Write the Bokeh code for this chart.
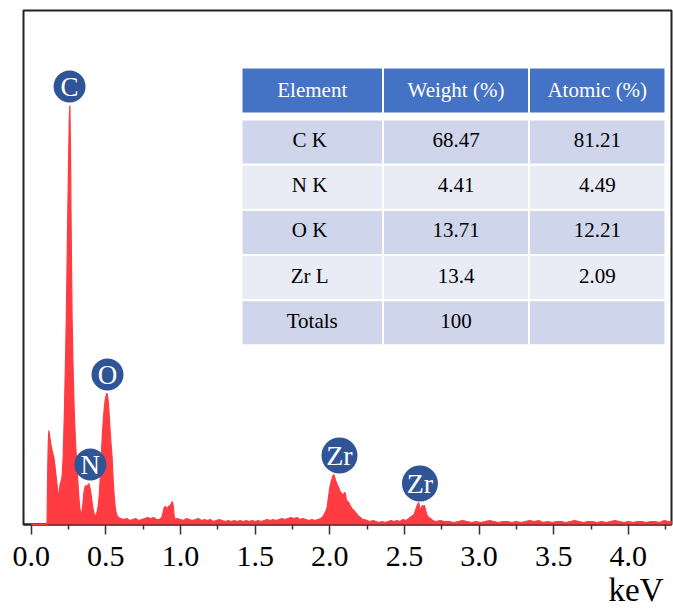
from bokeh.plotting import figure
from bokeh.models import Range1d, FixedTicker, Title, NumeralTickFormatter
from bokeh.core.properties import value
from bokeh.embed import file_html
from bokeh.resources import INLINE

SERIF = "Liberation Serif"
RED = "#FF3C41"
MARK_BLUE = "#2F5597"
HEAD_BLUE = "#4472C4"
ROW_DARK = "#CFD5EA"
ROW_LIGHT = "#E9EBF5"

# EDS spectrum: energy (keV) and intensity (a.u.)
kev = [
    0.000, 0.050, 0.100, 0.106,
    0.110, 0.114, 0.118, 0.122, 0.128, 0.134, 0.140, 0.146, 0.152, 0.158, 0.164, 0.170, 0.176, 0.181, 0.185, 0.189, 0.193, 0.198, 0.203, 0.208,
    0.214, 0.222, 0.230, 0.236, 0.243, 0.250, 0.255, 0.259, 0.263, 0.268, 0.274, 0.280, 0.288, 0.296, 0.303, 0.310, 0.318, 0.325, 0.332,
    0.340, 0.346, 0.352, 0.358, 0.364, 0.370, 0.376, 0.381, 0.386, 0.391, 0.397, 0.403, 0.409, 0.415, 0.421, 0.427, 0.432,
    0.438, 0.444, 0.450, 0.456, 0.462, 0.469, 0.476, 0.483, 0.490, 0.496, 0.502, 0.506, 0.509, 0.513, 0.518, 0.523, 0.528, 0.535, 0.542, 0.549, 0.556, 0.563, 0.570, 0.578, 0.586, 0.594,
    0.60, 0.62, 0.64, 0.66, 0.68, 0.70, 0.72, 0.74, 0.76, 0.78, 0.80, 0.82, 0.84, 0.86, 0.875,
    0.885, 0.890, 0.900, 0.910, 0.920, 0.930, 0.938, 0.946, 0.952, 0.958, 0.965,
    0.98, 1.00, 1.02, 1.04, 1.06, 1.08, 1.10, 1.12, 1.14, 1.16, 1.18, 1.20, 1.22, 1.24, 1.26, 1.28, 1.30, 1.32, 1.34, 1.36,
    1.38, 1.40, 1.42, 1.44, 1.46, 1.48, 1.50, 1.52, 1.54, 1.56, 1.58, 1.60, 1.62, 1.64, 1.66, 1.68, 1.70, 1.72, 1.74, 1.76,
    1.78, 1.80, 1.82, 1.84, 1.86, 1.88, 1.90, 1.92, 1.94, 1.955,
    1.965, 1.975, 1.982, 1.990, 2.000, 2.008, 2.016, 2.022, 2.027, 2.033, 2.039, 2.045, 2.052, 2.060, 2.068, 2.076, 2.084, 2.090,
    2.098, 2.105, 2.112, 2.120, 2.127, 2.136, 2.145, 2.153, 2.161, 2.172, 2.183, 2.195, 2.206, 2.218, 2.230, 2.250,
    2.27, 2.29, 2.31, 2.33, 2.35, 2.37, 2.39, 2.41, 2.43, 2.45, 2.47, 2.49, 2.51, 2.53, 2.545,
    2.557, 2.567, 2.576, 2.585, 2.591, 2.596, 2.601, 2.607, 2.613, 2.619, 2.625, 2.634, 2.642, 2.652, 2.663, 2.675, 2.690, 2.710,
    2.74, 2.77, 2.80, 2.83, 2.86, 2.89, 2.92, 2.95, 2.98, 3.01, 3.04, 3.07, 3.10, 3.13, 3.16, 3.19, 3.22, 3.25,
    3.28, 3.31, 3.34, 3.37, 3.40, 3.43, 3.46, 3.49, 3.52, 3.55, 3.58, 3.61, 3.64, 3.67, 3.70, 3.73, 3.76, 3.79,
    3.82, 3.85, 3.88, 3.91, 3.94, 3.97, 4.00, 4.03, 4.06, 4.09, 4.12, 4.15, 4.18, 4.21, 4.24, 4.27, 4.29,
]
counts = [
    0, 0, 0, 0,
    50, 80, 94, 90, 84, 78, 74, 70, 67, 60, 52, 44, 36, 30, 27, 33, 40, 42, 44, 50,
    67, 110, 165, 215, 290, 360, 405, 419, 380, 290, 205, 160, 115, 85, 67, 50, 30, 17, 11,
    13, 20, 31, 36, 39, 37, 39, 40, 41, 38, 34, 28, 21, 15, 11, 9, 9,
    11, 14, 20, 30, 45, 67, 88, 105, 117, 125, 129, 131, 131, 127, 120, 108, 95, 80, 67, 45, 28, 17, 11, 8, 7, 6,
    6, 5, 6, 4, 5, 6, 4, 5, 6, 7, 6, 7, 5, 5, 7,
    13, 17, 18, 16, 18, 19, 21, 23, 18, 8, 5,
    6, 5, 4, 6, 5, 4, 5, 6, 4, 5, 4, 5, 3, 4, 5, 4, 3, 4, 3, 4,
    3, 4, 3, 4, 3, 4, 3, 4, 3, 4, 5, 4, 5, 4, 5, 6, 5, 6, 7, 6,
    7, 5, 6, 5, 4, 5, 4, 5, 6, 8,
    11, 14, 17, 26, 37, 42, 46, 49, 50, 47, 44, 42, 39, 37, 33, 32, 30, 29,
    32, 31, 24, 23, 22, 19, 17, 15, 14, 12, 10, 8, 7, 5, 5, 4,
    3, 4, 3, 2, 3, 2, 3, 4, 3, 4, 3, 5, 4, 6, 8,
    9, 11, 15, 19, 21, 22, 18, 14, 16, 19, 18, 19, 14, 9, 7, 6, 4, 3,
    4, 3, 3, 2, 3, 4, 3, 2, 3, 2, 3, 4, 3, 2, 3, 3, 2, 3,
    2, 3, 4, 3, 4, 2, 3, 2, 3, 3, 2, 3, 4, 3, 2, 3, 3, 2,
    3, 2, 3, 4, 3, 2, 3, 2, 3, 3, 2, 3, 3, 2, 4, 3, 3,
]
assert len(kev) == len(counts)

# axis ticks (keV)
major_ticks = [0.0, 0.5, 1.0, 1.5, 2.0, 2.5, 3.0, 3.5, 4.0]
minor_ticks = [0.25, 0.75, 1.25, 1.75, 2.25, 2.75, 3.25, 3.75, 4.25]

# peak markers
peak_names = ["C", "N", "O", "Zr", "Zr"]
peak_kev = [0.257, 0.396, 0.511, 2.065, 2.604]

# quantification table
table_header = ["Element", "Weight (%)", "Atomic (%)"]
table_elements = ["C  K", "N  K", "O  K", "Zr  L", "Totals"]
weight_pct = ["68.47", "4.41", "13.71", "13.4", "100"]
atomic_pct = ["81.21", "4.49", "12.21", "2.09", ""]

p = figure(
    width=673, height=610,
    x_range=Range1d(-0.0516, 4.289), y_range=Range1d(0, 514),
    y_axis_type=None,
    output_backend="svg", toolbar_location=None,
    min_border_left=23, min_border_right=2, min_border_top=10, min_border_bottom=86,
)
p.xgrid.visible = False
p.background_fill_color = "white"
p.border_fill_color = "white"
p.outline_line_color = "#222222"
p.outline_line_width = 2

# pixel-space ranges for the inset table
p.extra_x_ranges = {"px": Range1d(23, 671)}
p.extra_y_ranges = {"px": Range1d(524, 10)}

# spectrum
area = p.varea(x=kev, y1=0, y2=counts, fill_color=RED)
edge = p.line(kev, counts, line_color=RED, line_width=1.2)
area.level = "annotation"
edge.level = "annotation"

# x axis
ax = p.xaxis[0]
ax.ticker = FixedTicker(ticks=major_ticks, minor_ticks=minor_ticks)
ax.formatter = NumeralTickFormatter(format="0.0")
ax.major_tick_out = 10
ax.major_tick_in = 0
ax.minor_tick_out = 5
ax.minor_tick_in = 0
ax.major_tick_line_color = "#333333"
ax.minor_tick_line_color = "#333333"
ax.major_tick_line_width = 1.5
ax.minor_tick_line_width = 1.5
ax.axis_line_color = "#222222"
ax.axis_line_width = 2
ax.major_label_text_font = SERIF
ax.major_label_text_font_size = "30px"
ax.major_label_text_color = "black"
ax.major_label_standoff = 12

# unit label at the lower right, below the axis
p.add_layout(Title(text="keV", align="right", offset=8, standoff=2,
                   text_font=SERIF, text_font_size="33px", text_font_style="normal",
                   text_color="black"), "below")

# peak markers above each peak maximum
label_y = []
for e in peak_kev:
    local = [c for k, c in zip(kev, counts) if abs(k - e) <= 0.045]
    label_y.append(max(local) + 19)
sizes = [36 if len(n) > 1 else 32 for n in peak_names]
fonts = ["28px" if len(n) > 1 else "27px" for n in peak_names]
dots = p.scatter(x=peak_kev, y=label_y, size=sizes, fill_color=MARK_BLUE, line_color=None)
dots.level = "overlay"
for e, yv, name, fs in zip(peak_kev, label_y, peak_names, fonts):
    t = p.text(x=[e], y=[yv], text=[name], text_color="white", text_font=value(SERIF),
               text_font_size=fs, text_align="center", text_baseline="middle")
    t.level = "overlay"

# inset table
col_left = [242, 383.5, 529.5]
col_right = [381.5, 527.5, 664]
col_mid = [(a + b) / 2 for a, b in zip(col_left, col_right)]
head_top, head_bot = 68, 112
row_top0, row_pitch, row_h = 120, 45.2, 43

p.quad(left=col_left, right=col_right, top=[head_top] * 3, bottom=[head_bot] * 3,
       fill_color=HEAD_BLUE, line_color=None, x_range_name="px", y_range_name="px")
p.text(x=col_mid, y=[(head_top + head_bot) / 2 - 1] * 3, text=table_header,
       text_color="white", text_font=value(SERIF), text_font_size="21px",
       text_align="center", text_baseline="middle", x_range_name="px", y_range_name="px")

rows = list(zip(table_elements, weight_pct, atomic_pct))
for i, row in enumerate(rows):
    top = row_top0 + i * row_pitch
    bot = top + row_h
    fill = ROW_DARK if i % 2 == 0 else ROW_LIGHT
    p.quad(left=col_left, right=col_right, top=[top] * 3, bottom=[bot] * 3,
           fill_color=fill, line_color=None, x_range_name="px", y_range_name="px")
    p.text(x=col_mid, y=[(top + bot) / 2 - 2] * 3, text=list(row),
           text_color="black", text_font=value(SERIF), text_font_size="21px",
           text_align="center", text_baseline="middle", x_range_name="px", y_range_name="px")

open("out.html", "w").write(file_html(p, INLINE))
